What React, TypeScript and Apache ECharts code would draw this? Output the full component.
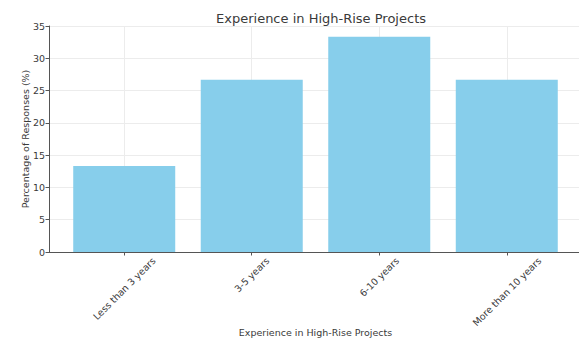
import React, { useEffect, useRef } from "react";
import * as echarts from "echarts";

const categories = ["Less than 3 years", "3-5 years", "6-10 years", "More than 10 years"];
const percentages = [13.33, 26.67, 33.33, 26.67];
const yTicks = [0, 5, 10, 15, 20, 25, 30, 35];

const FONT = "DejaVu Sans";
const TEXT = "#3a3a3a";
const LABEL_SIZE = 9.5;

const X_MIN = -0.59;
const X_MAX = 3.59;
const GRID_LEFT = 49;
const GRID_WIDTH = 533;

// Width of a label string in pixels, used to centre the rotated category labels on their ticks.
function textWidth(text: string, size: number): number {
  const ctx = document.createElement("canvas").getContext("2d");
  if (!ctx) return text.length * size * 0.55;
  ctx.font = `${size}px "${FONT}"`;
  return ctx.measureText(text).width;
}

export default function App() {
  const ref = useRef<HTMLDivElement>(null);

  useEffect(() => {
    if (!ref.current) return;
    document.body.style.margin = "0";
    const chart = echarts.init(ref.current, undefined, { renderer: "svg" });
    const positions = categories.map((_, i) => i);
    const pxPerUnit = GRID_WIDTH / (X_MAX - X_MIN);
    // Rotated labels are anchored at their right end; shift each anchor so the label's box is centred on the tick.
    const labelValues = categories.map(
      (c, i) => i + textWidth(c, LABEL_SIZE) / (2 * Math.SQRT2) / pxPerUnit
    );
    chart.setOption({
      animation: false,
      backgroundColor: "#ffffff",
      title: {
        text: "Experience in High-Rise Projects",
        left: 316,
        top: 7,
        textAlign: "center",
        textStyle: { fontFamily: FONT, fontSize: 13, fontWeight: "normal", color: TEXT },
      },
      grid: { left: GRID_LEFT, top: 26, width: GRID_WIDTH, bottom: 95, outerBoundsMode: "none" },
      xAxis: {
        type: "value",
        min: X_MIN,
        max: X_MAX,
        name: "Experience in High-Rise Projects",
        nameLocation: "middle",
        nameGap: 75,
        nameMoveOverlap: false,
        nameTextStyle: { fontFamily: FONT, fontSize: LABEL_SIZE, color: TEXT },
        axisLine: { show: true, onZero: false, lineStyle: { color: "#555555", width: 1 } },
        axisTick: { show: true, customValues: positions, length: 3.5, lineStyle: { color: "#555555" } },
        axisLabel: {
          customValues: labelValues,
          rotate: 45,
          fontFamily: FONT,
          fontSize: LABEL_SIZE,
          color: TEXT,
          margin: 7,
          formatter: (v: number) => categories[Math.round(v)] ?? "",
        },
        splitLine: { show: true, lineStyle: { color: "#ececec", width: 1 } },
      },
      yAxis: {
        type: "value",
        min: 0,
        max: 35,
        interval: 5,
        name: "Percentage of Responses (%)",
        nameLocation: "middle",
        nameGap: 19,
        nameMoveOverlap: false,
        nameTextStyle: { fontFamily: FONT, fontSize: LABEL_SIZE, color: TEXT },
        axisLine: { show: true, onZero: false, lineStyle: { color: "#555555", width: 1 } },
        axisTick: { show: true, length: 3.5, lineStyle: { color: "#555555" } },
        axisLabel: {
          customValues: yTicks,
          fontFamily: FONT,
          fontSize: LABEL_SIZE,
          color: TEXT,
          margin: 4,
        },
        splitLine: { show: true, lineStyle: { color: "#ececec", width: 1 } },
      },
      series: [
        {
          type: "bar",
          data: percentages.map((v, i) => [positions[i], v]),
          barWidth: 102,
          itemStyle: { color: "#87ceeb" },
        },
      ],
    });
    return () => chart.dispose();
  }, []);

  return <div ref={ref} style={{ width: 579, height: 347 }} />;
}
